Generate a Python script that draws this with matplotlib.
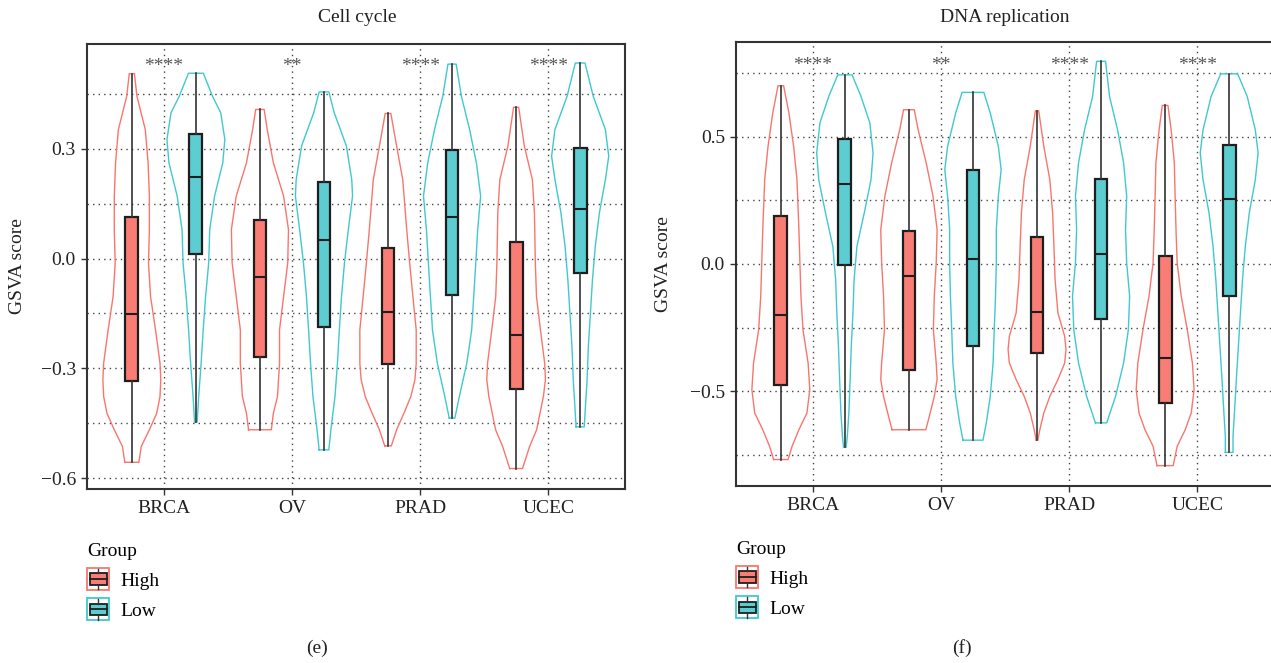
import numpy as np
import matplotlib
matplotlib.use("Agg")
import matplotlib.pyplot as plt
from matplotlib.patches import Patch, Rectangle
from matplotlib.lines import Line2D
from matplotlib.legend_handler import HandlerBase
from matplotlib.ticker import FuncFormatter

plt.rcParams['font.family'] = ['Liberation Serif', 'DejaVu Serif']

cats = ["BRCA", "OV", "PRAD", "UCEC"]
groups = ["High", "Low"]

# ---- Cell cycle: box stats per category (BRCA, OV, PRAD, UCEC)
cc_high_q1  = [-0.335, -0.270, -0.288, -0.357]
cc_high_med = [-0.151, -0.050, -0.147, -0.210]
cc_high_q3  = [0.114, 0.106, 0.028, 0.045]
cc_low_q1   = [0.013, -0.186, -0.100, -0.040]
cc_low_med  = [0.223, 0.050, 0.115, 0.137]
cc_low_q3   = [0.340, 0.210, 0.298, 0.303]

# violin outlines: y levels (min -> max) and half widths
cc_high_vy = [
    [-0.557, -0.514, -0.468, -0.423, -0.377, -0.331, -0.286, -0.195, -0.103, -0.012, 0.079, 0.171, 0.262, 0.353, 0.444, 0.506],
    [-0.468, -0.423, -0.377, -0.286, -0.195, -0.103, -0.012, 0.079, 0.171, 0.262, 0.353, 0.408],
    [-0.512, -0.468, -0.423, -0.377, -0.331, -0.286, -0.195, -0.103, -0.012, 0.079, 0.216, 0.308, 0.397],
    [-0.574, -0.514, -0.468, -0.377, -0.331, -0.286, -0.195, -0.103, -0.012, 0.125, 0.216, 0.308, 0.414],
]
cc_high_vw = [
    [0.055, 0.073, 0.137, 0.194, 0.220, 0.226, 0.220, 0.185, 0.146, 0.130, 0.137, 0.137, 0.127, 0.105, 0.040, 0.020],
    [0.089, 0.105, 0.137, 0.153, 0.153, 0.185, 0.217, 0.223, 0.185, 0.105, 0.057, 0.033],
    [0.026, 0.067, 0.124, 0.178, 0.210, 0.220, 0.220, 0.194, 0.169, 0.146, 0.115, 0.067, 0.022],
    [0.050, 0.105, 0.160, 0.213, 0.229, 0.223, 0.190, 0.159, 0.150, 0.143, 0.127, 0.064, 0.020],
]
cc_low_vy = [
    [-0.447, -0.377, -0.286, -0.195, -0.103, -0.012, 0.079, 0.171, 0.262, 0.326, 0.399, 0.444, 0.507],
    [-0.523, -0.468, -0.377, -0.286, -0.195, -0.103, -0.012, 0.079, 0.171, 0.216, 0.308, 0.399, 0.456],
    [-0.436, -0.377, -0.286, -0.195, -0.103, -0.012, 0.079, 0.171, 0.262, 0.353, 0.444, 0.532],
    [-0.460, -0.423, -0.331, -0.240, -0.149, -0.058, 0.034, 0.125, 0.216, 0.280, 0.353, 0.444, 0.535],
]
cc_low_vw = [
    [0.010, 0.022, 0.041, 0.057, 0.076, 0.100, 0.108, 0.146, 0.210, 0.226, 0.194, 0.130, 0.058],
    [0.038, 0.054, 0.086, 0.105, 0.120, 0.137, 0.160, 0.190, 0.223, 0.217, 0.175, 0.080, 0.038],
    [0.022, 0.057, 0.115, 0.153, 0.169, 0.185, 0.200, 0.223, 0.190, 0.137, 0.073, 0.032],
    [0.032, 0.038, 0.054, 0.064, 0.080, 0.096, 0.118, 0.150, 0.197, 0.223, 0.197, 0.102, 0.038],
]
cc_stars = ["****", "**", "****", "****"]

# ---- DNA replication
dna_high_q1  = [-0.474, -0.415, -0.349, -0.546]
dna_high_med = [-0.202, -0.048, -0.190, -0.370]
dna_high_q3  = [0.187, 0.128, 0.106, 0.033]
dna_low_q1   = [-0.003, -0.323, -0.215, -0.127]
dna_low_med  = [0.314, 0.020, 0.038, 0.255]
dna_low_q3   = [0.490, 0.369, 0.332, 0.466]

dna_high_vy = [
    [-0.768, -0.716, -0.651, -0.585, -0.493, -0.389, -0.258, -0.127, 0.135, 0.331, 0.462, 0.593, 0.700],
    [-0.651, -0.585, -0.520, -0.454, -0.389, -0.258, -0.127, 0.004, 0.135, 0.266, 0.397, 0.527, 0.606],
    [-0.692, -0.651, -0.585, -0.520, -0.454, -0.389, -0.336, -0.284, -0.192, -0.062, 0.069, 0.200, 0.331, 0.462, 0.602],
    [-0.792, -0.716, -0.651, -0.585, -0.493, -0.389, -0.258, -0.127, 0.004, 0.135, 0.266, 0.397, 0.527, 0.623],
]
dna_high_vw = [
    [0.056, 0.088, 0.141, 0.204, 0.226, 0.213, 0.173, 0.157, 0.141, 0.126, 0.100, 0.063, 0.022],
    [0.132, 0.166, 0.198, 0.220, 0.213, 0.191, 0.198, 0.213, 0.220, 0.188, 0.135, 0.072, 0.042],
    [0.006, 0.022, 0.053, 0.100, 0.163, 0.216, 0.226, 0.216, 0.163, 0.141, 0.132, 0.122, 0.100, 0.053, 0.013],
    [0.063, 0.094, 0.157, 0.204, 0.226, 0.213, 0.173, 0.126, 0.094, 0.085, 0.078, 0.072, 0.047, 0.022],
]
dna_low_vy = [
    [-0.720, -0.677, -0.585, -0.454, -0.323, -0.192, -0.062, 0.069, 0.200, 0.331, 0.436, 0.554, 0.658, 0.743],
    [-0.692, -0.624, -0.520, -0.389, -0.258, -0.127, 0.004, 0.135, 0.266, 0.370, 0.462, 0.593, 0.674],
    [-0.624, -0.520, -0.389, -0.258, -0.127, 0.004, 0.135, 0.266, 0.397, 0.527, 0.658, 0.796],
    [-0.740, -0.677, -0.585, -0.454, -0.323, -0.192, -0.062, 0.069, 0.200, 0.331, 0.436, 0.527, 0.658, 0.747],
]
dna_low_vw = [
    [0.010, 0.019, 0.031, 0.041, 0.050, 0.063, 0.072, 0.094, 0.151, 0.204, 0.220, 0.195, 0.126, 0.056],
    [0.078, 0.104, 0.135, 0.157, 0.166, 0.176, 0.182, 0.182, 0.198, 0.220, 0.198, 0.135, 0.085],
    [0.044, 0.113, 0.176, 0.213, 0.223, 0.200, 0.191, 0.200, 0.176, 0.129, 0.066, 0.035],
    [0.030, 0.030, 0.041, 0.056, 0.072, 0.088, 0.104, 0.126, 0.157, 0.204, 0.226, 0.204, 0.141, 0.066],
]
dna_stars = ["****", "**", "****", "****"]

high_line, low_line = "#F8766D", "#3FC9CE"
high_fill, low_fill = "#F97D74", "#5CCDD0"
dark = "#333333"
boxedge = "#1E1E1E"
FS = 14


class HandlerBoxViolin(HandlerBase):
    # legend key: violin outline square with a small boxplot inside
    def create_artists(self, legend, orig_handle, xdescent, ydescent, width, height, fontsize, trans):
        x0, y0 = -xdescent, -ydescent
        outer = Rectangle((x0, y0), width, height, facecolor="white",
                          edgecolor=orig_handle.get_edgecolor(), lw=1.3, transform=trans)
        box = Rectangle((x0 + 0.12*width, y0 + 0.24*height), 0.76*width, 0.52*height,
                        facecolor=orig_handle.get_facecolor(), edgecolor=boxedge, lw=1.3, transform=trans)
        med = Line2D([x0 + 0.12*width, x0 + 0.88*width], [y0 + 0.5*height]*2, color=boxedge, lw=1.3, transform=trans)
        w1 = Line2D([x0 + 0.5*width]*2, [y0 + 0.04*height, y0 + 0.24*height], color=dark, lw=1.0, transform=trans)
        w2 = Line2D([x0 + 0.5*width]*2, [y0 + 0.76*height, y0 + 0.96*height], color=dark, lw=1.0, transform=trans)
        return [outer, box, med, w1, w2]


def draw_violin(ax, pos, ys, ws, color):
    ys = np.asarray(ys)
    ws = np.asarray(ws)
    xs = np.concatenate([pos - ws, (pos + ws)[::-1], [pos - ws[0]]])
    yy = np.concatenate([ys, ys[::-1], [ys[0]]])
    ax.plot(xs, yy, color=color, lw=1.0, zorder=2)


def box_stats(q1, med, q3, vy):
    return [dict(q1=a, med=b, q3=c, whislo=v[0], whishi=v[-1]) for a, b, c, v in zip(q1, med, q3, vy)]


def panel(ax, title_x, title, hq, lq, hvy, hvw, lvy, lvw, stars, star_y, ylim, major, minor):
    pos = np.arange(1, len(cats) + 1)
    off = 0.25
    for i in range(len(cats)):
        draw_violin(ax, pos[i] - off, hvy[i], hvw[i], high_line)
        draw_violin(ax, pos[i] + off, lvy[i], lvw[i], low_line)
    for stats, p, fc in [(box_stats(*hq, hvy), pos - off, high_fill), (box_stats(*lq, lvy), pos + off, low_fill)]:
        ax.bxp(stats, positions=p, widths=0.1, patch_artist=True, showfliers=False, showcaps=False,
               manage_ticks=False, zorder=3,
               boxprops=dict(facecolor=fc, edgecolor=boxedge, lw=1.6),
               medianprops=dict(color=boxedge, lw=1.5),
               whiskerprops=dict(color=dark, lw=1.2))
    for i, s in enumerate(stars):
        ax.text(pos[i], star_y, s, ha="center", va="baseline", fontsize=FS, color="#555555")
    ax.set_xlim(0.4, 4.6)
    ax.set_ylim(*ylim)
    ax.set_xticks(pos)
    ax.set_xticklabels(cats)
    ax.set_yticks(major)
    ax.set_yticks(minor, minor=True)
    ax.yaxis.set_major_formatter(FuncFormatter(lambda v, p: ("%.1f" % v).replace("-", "\u2212")))
    ax.tick_params(which="major", length=4, width=1, color=dark, labelsize=FS, labelcolor="#222222", pad=4)
    ax.tick_params(which="minor", length=0)
    ax.grid(True, which="both", axis="y", color="#444444", lw=1.0, ls=(0, (1, 3)))
    ax.grid(True, which="major", axis="x", color="#444444", lw=1.0, ls=(0, (1, 3)))
    ax.set_axisbelow(True)
    for sp in ax.spines.values():
        sp.set_color(dark)
        sp.set_linewidth(1.5)
    fig.text(title_x, 1 - 18/663, title, ha="center", va="center", fontsize=FS, color="#222222")


fig = plt.figure(figsize=(12.71, 6.63), dpi=100)
ax1 = fig.add_axes([87/1271, 1 - 489/663, 538/1271, 445/663])
ax2 = fig.add_axes([736/1271, 1 - 486/663, 538/1271, 444/663])

panel(ax1, 357/1271, "Cell cycle",
      (cc_high_q1, cc_high_med, cc_high_q3), (cc_low_q1, cc_low_med, cc_low_q3),
      cc_high_vy, cc_high_vw, cc_low_vy, cc_low_vw, cc_stars, 0.514,
      (-0.63, 0.587), [-0.6, -0.3, 0.0, 0.3], [-0.45, -0.15, 0.15, 0.45])
panel(ax2, 1005/1271, "DNA replication",
      (dna_high_q1, dna_high_med, dna_high_q3), (dna_low_q1, dna_low_med, dna_low_q3),
      dna_high_vy, dna_high_vw, dna_low_vy, dna_low_vw, dna_stars, 0.761,
      (-0.872, 0.872), [-0.5, 0.0, 0.5], [-0.75, -0.25, 0.25, 0.75])

fig.text(18/1271, 1 - 266/663, "GSVA score", rotation=90, ha="center", va="center", fontsize=FS, color="#222222")
fig.text(663/1271, 1 - 264/663, "GSVA score", rotation=90, ha="center", va="center", fontsize=FS, color="#222222")

handles = [Patch(facecolor=high_fill, edgecolor=high_line), Patch(facecolor=low_fill, edgecolor=low_line)]
for lx, ly in [(87/1271, 1 - 543/663), (736/1271, 1 - 541/663)]:
    leg = fig.legend(handles, groups, title="Group", loc="upper left", bbox_to_anchor=(lx, ly),
                     handler_map={Patch: HandlerBoxViolin()}, frameon=False, fontsize=FS,
                     title_fontsize=FS, alignment="left", handlelength=1.15, handleheight=1.37,
                     handletextpad=0.55, labelspacing=0.42, borderpad=0, borderaxespad=0)

fig.text(317/1271, 1 - 648/663, "(e)", ha="center", va="center", fontsize=FS, color="#222222")
fig.text(962/1271, 1 - 648/663, "(f)", ha="center", va="center", fontsize=FS, color="#222222")

fig.savefig("out.png", dpi=100)
